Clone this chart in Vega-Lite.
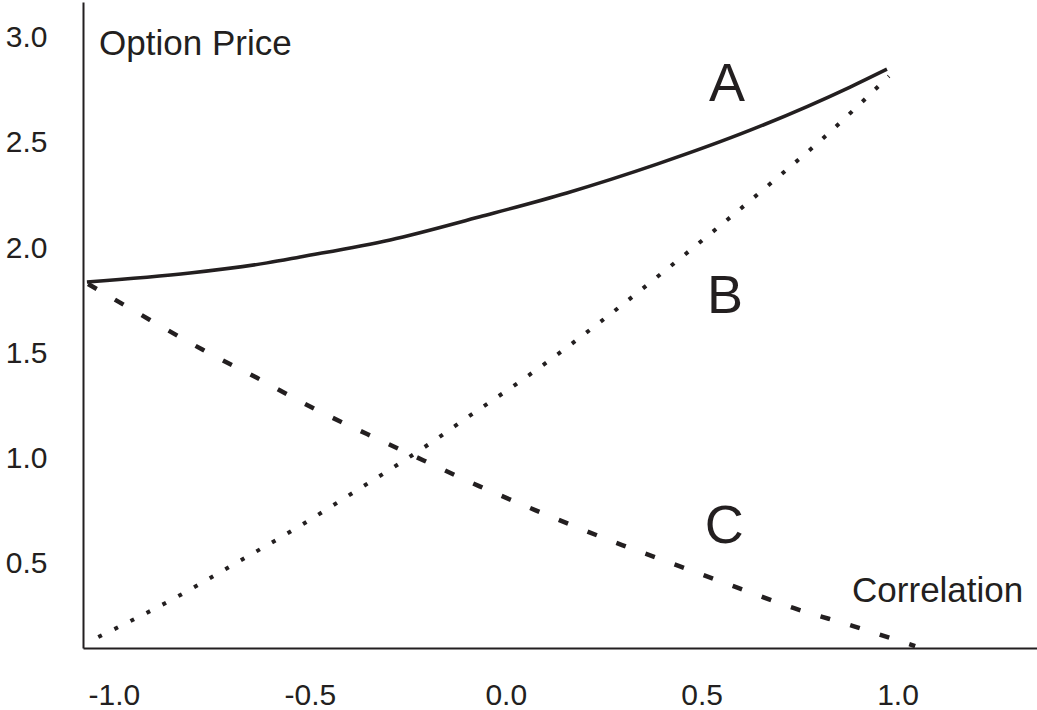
{
  "$schema": "https://vega.github.io/schema/vega-lite/v6.json",
  "width": 954,
  "height": 646,
  "autosize": {"type": "none"},
  "padding": {"left": 83, "top": 2, "right": 0, "bottom": 62},
  "background": "white",
  "config": {
    "view": {"stroke": null},
    "font": "Liberation Sans",
    "axis": {
      "grid": false,
      "ticks": false,
      "domainColor": "#231f20",
      "domainWidth": 2,
      "labelFont": "Liberation Sans",
      "labelFontSize": 30,
      "labelColor": "#231f20",
      "title": null
    }
  },
  "datasets": {
    "curves": [
      {"series": "A", "x": -1.069, "y": 1.839},
      {"series": "A", "x": -0.806, "y": 1.882},
      {"series": "A", "x": -0.609, "y": 1.930},
      {"series": "A", "x": -0.525, "y": 1.958},
      {"series": "A", "x": -0.295, "y": 2.039},
      {"series": "A", "x": -0.066, "y": 2.149},
      {"series": "A", "x": 0.156, "y": 2.262},
      {"series": "A", "x": 0.388, "y": 2.400},
      {"series": "A", "x": 0.624, "y": 2.560},
      {"series": "A", "x": 0.879, "y": 2.765},
      {"series": "A", "x": 0.973, "y": 2.850},
      {"series": "B", "x": -1.040, "y": 0.153},
      {"series": "B", "x": -0.839, "y": 0.344},
      {"series": "B", "x": -0.683, "y": 0.510},
      {"series": "B", "x": -0.525, "y": 0.681},
      {"series": "B", "x": -0.374, "y": 0.857},
      {"series": "B", "x": -0.221, "y": 1.038},
      {"series": "B", "x": -0.073, "y": 1.228},
      {"series": "B", "x": 0.039, "y": 1.370},
      {"series": "B", "x": 0.241, "y": 1.649},
      {"series": "B", "x": 0.399, "y": 1.882},
      {"series": "B", "x": 0.537, "y": 2.091},
      {"series": "B", "x": 0.677, "y": 2.309},
      {"series": "B", "x": 0.813, "y": 2.527},
      {"series": "B", "x": 0.978, "y": 2.817},
      {"series": "C", "x": -1.066, "y": 1.830},
      {"series": "C", "x": -0.908, "y": 1.659},
      {"series": "C", "x": -0.772, "y": 1.516},
      {"series": "C", "x": -0.635, "y": 1.384},
      {"series": "C", "x": -0.497, "y": 1.245},
      {"series": "C", "x": -0.354, "y": 1.117},
      {"series": "C", "x": -0.211, "y": 0.993},
      {"series": "C", "x": -0.068, "y": 0.870},
      {"series": "C", "x": 0.075, "y": 0.756},
      {"series": "C", "x": 0.297, "y": 0.590},
      {"series": "C", "x": 0.443, "y": 0.490},
      {"series": "C", "x": 0.588, "y": 0.390},
      {"series": "C", "x": 0.736, "y": 0.290},
      {"series": "C", "x": 0.887, "y": 0.205},
      {"series": "C", "x": 1.045, "y": 0.110}
    ],
    "letters": [
      {"label": "A", "x": 0.565, "y": 2.698},
      {"label": "B", "x": 0.560, "y": 1.692},
      {"label": "C", "x": 0.558, "y": 0.600}
    ],
    "titles": [
      {"label": "Option Price", "x": -1.038, "y": 2.916},
      {"label": "Correlation", "x": 0.884, "y": 0.320}
    ]
  },
  "layer": [
    {
      "data": {"name": "curves"},
      "transform": [{"filter": "datum.series === 'A'"}],
      "mark": {"type": "line", "color": "#231f20", "strokeWidth": 3.5, "interpolate": "monotone"},
      "encoding": {
        "x": {
          "field": "x", "type": "quantitative",
          "scale": {"domain": [-1.079, 1.356], "nice": false, "zero": false},
          "axis": {
            "values": [-1, -0.5, 0, 0.5, 1],
            "labelExpr": "replace(format(datum.value, '.1f'), '−', '-')",
            "labelPadding": 32,
            "labelBaseline": "top"
          }
        },
        "y": {
          "field": "y", "type": "quantitative",
          "scale": {"domain": [0.101, 3.169], "nice": false, "zero": false},
          "axis": {
            "values": [0.5, 1, 1.5, 2, 2.5, 3],
            "labelExpr": "format(datum.value, '.1f')",
            "labelPadding": 36
          }
        },
        "order": {"field": "x", "type": "quantitative"}
      }
    },
    {
      "data": {"name": "curves"},
      "transform": [{"filter": "datum.series === 'B'"}],
      "mark": {"type": "line", "color": "#231f20", "strokeWidth": 4, "strokeDash": [4, 14], "interpolate": "monotone"},
      "encoding": {
        "x": {"field": "x", "type": "quantitative"},
        "y": {"field": "y", "type": "quantitative"},
        "order": {"field": "x", "type": "quantitative"}
      }
    },
    {
      "data": {"name": "curves"},
      "transform": [{"filter": "datum.series === 'C'"}],
      "mark": {"type": "line", "color": "#231f20", "strokeWidth": 4.5, "strokeDash": [10, 21], "interpolate": "monotone"},
      "encoding": {
        "x": {"field": "x", "type": "quantitative"},
        "y": {"field": "y", "type": "quantitative"},
        "order": {"field": "x", "type": "quantitative"}
      }
    },
    {
      "data": {"name": "letters"},
      "mark": {"type": "text", "fontSize": 54, "font": "Liberation Sans", "color": "#231f20", "align": "center", "baseline": "alphabetic"},
      "encoding": {
        "x": {"field": "x", "type": "quantitative"},
        "y": {"field": "y", "type": "quantitative"},
        "text": {"field": "label"}
      }
    },
    {
      "data": {"name": "titles"},
      "mark": {"type": "text", "fontSize": 35, "font": "Liberation Sans", "color": "#231f20", "align": "left", "baseline": "alphabetic"},
      "encoding": {
        "x": {"field": "x", "type": "quantitative"},
        "y": {"field": "y", "type": "quantitative"},
        "text": {"field": "label"}
      }
    }
  ]
}
